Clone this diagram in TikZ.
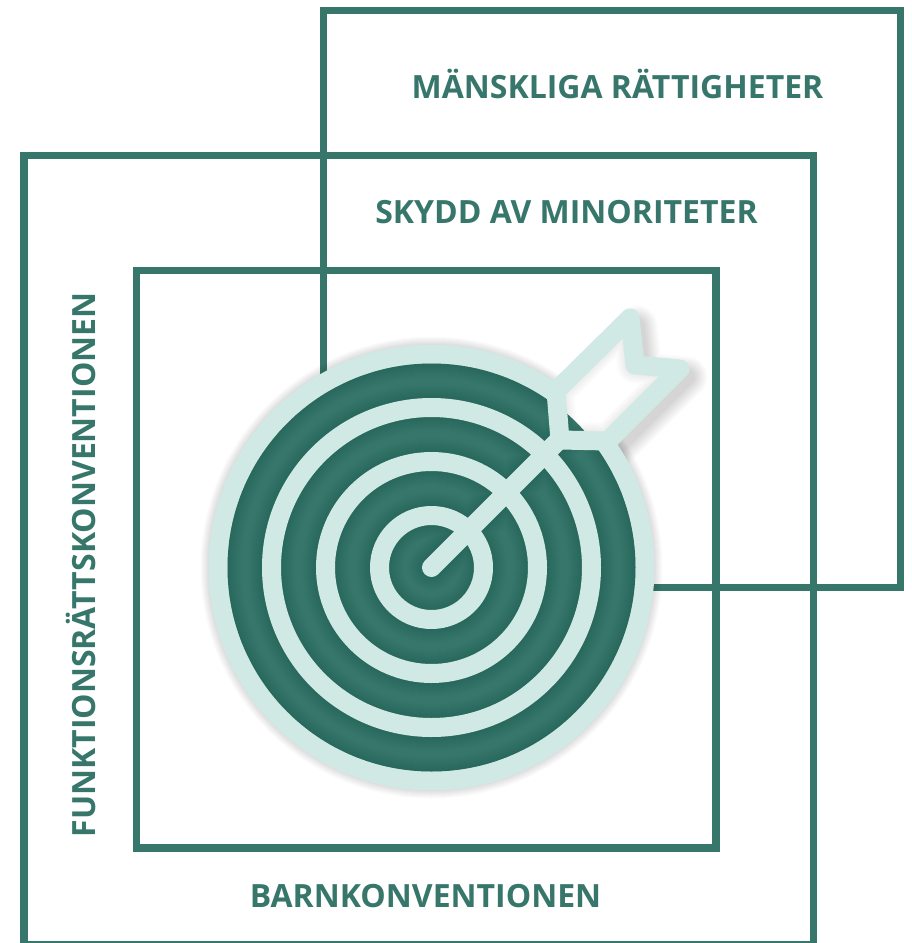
\documentclass[tikz,border=0pt]{standalone}
\usepackage{fontspec}
\setmainfont{Open Sans}
\definecolor{tgreen}{HTML}{37776B}
\definecolor{tpale}{HTML}{D0E9E4}
\newcommand{\headpath}{(560,440) -- (556,391) -- (630,318) -- (635,365) -- (680,369) -- (608,441) -- cycle}
\newcommand{\ringpaths}{(cc) circle[radius=160] (cc) circle[radius=106] (cc) circle[radius=52]}
\tikzset{
  framebox/.style={draw=tgreen,line width=5.4pt},
  lbl/.style={text=tgreen,font=\bfseries\fontsize{24}{28}\selectfont,inner sep=0pt},
  palestroke/.style={draw=tpale,line width=14.25pt,line join=round,line cap=round},
}
\begin{document}
\begin{tikzpicture}[x=0.75pt,y=-0.75pt]
\clip (0,0) rectangle (912,943);
\fill[white] (0,0) rectangle (912,943);
\coordinate (cc) at (431.5,567.5);
\coordinate (shafttip) at (431.5,567.5);
\coordinate (shaftend) at (566,433);
% frames
\draw[framebox] (323.5,10.5) rectangle (900.5,587.5);
\draw[framebox] (24,155.5) rectangle (813.5,945);
\draw[framebox] (136.5,270.5) rectangle (716,848);
% labels
\node[lbl] (l1) at (617.5,84) {MÄNSKLIGA RÄTTIGHETER};
\node[lbl] (l2) at (566.5,212.5) {SKYDD AV MINORITETER};
\node[lbl] (l3) at (425.5,896.5) {BARNKONVENTIONEN};
\node[lbl,rotate=90] (l4) at (81,565) {FUNKTIONSRÄTTSKONVENTIONEN};
% soft outer shadow
\foreach \w in {1,...,14}{
  \begin{scope}[shift={(7,8)}]
    \fill[black,opacity=.014] (cc) circle[radius=217+\w];
    \draw[black,opacity=.012,line width={(13+2*\w)*0.75pt},line join=round] (556,391) -- (630,318) -- (635,365) -- (680,369) -- (608,441);
  \end{scope}
}
% disc
\fill[tpale] (cc) circle[radius=223];
\fill[tgreen] (cc) circle[radius=204];
% inner shadows on the dark bands
\begin{scope}
  \clip (cc) circle[radius=204];
  \foreach \w in {1,...,14}{
    \begin{scope}[shift={(1,1.5)}]
    \draw[black,opacity=.009,line width={(19+2*\w)*0.75pt},line cap=round]
      \ringpaths (shafttip) -- (shaftend);
    \end{scope}
    \draw[black,opacity=.009,line width={2*\w*0.75pt}] (cc) circle[radius=204];
  }
\end{scope}
% rings and shaft
\draw[palestroke] (cc) circle[radius=160];
\draw[palestroke] (cc) circle[radius=106];
\draw[palestroke] (cc) circle[radius=52];
\draw[palestroke] (shafttip) -- (shaftend);
% arrow head
\fill[white] \headpath;
\begin{scope}
  \clip \headpath;
  \fill[tgreen] (cc) circle[radius=205];
  \foreach \w in {1,...,9}{
    \draw[black,opacity=.008,line width={(19+2*\w)*0.75pt},line join=round] \headpath;
  }
\end{scope}
\draw[palestroke] \headpath;
\end{tikzpicture}
\end{document}
